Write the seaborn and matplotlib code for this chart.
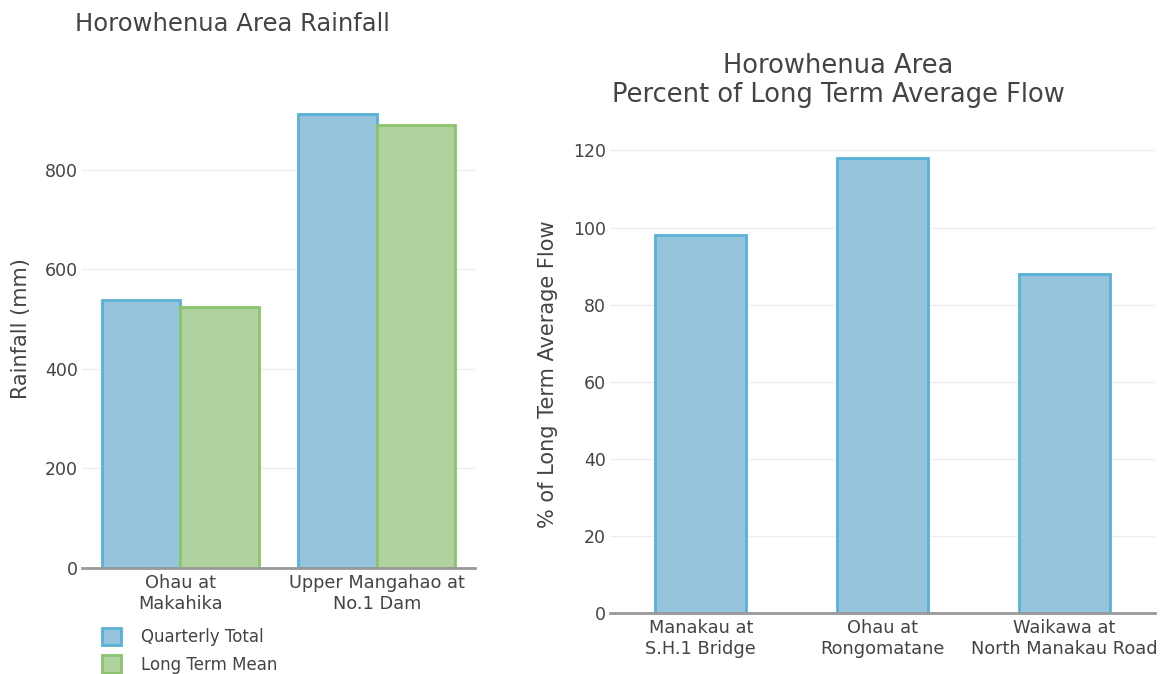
import matplotlib

matplotlib.use("Agg")
import matplotlib.pyplot as plt
import pandas as pd
import seaborn as sns
from matplotlib.patches import Patch

# --- data ---
rain_sites = ["Ohau at\nMakahika", "Upper Mangahao at\nNo.1 Dam"]
quarterly_total = [539, 912]
long_term_mean = [525, 890]
rain_series = ["Quarterly Total", "Long Term Mean"]

flow_sites = ["Manakau at\nS.H.1 Bridge", "Ohau at\nRongomatane", "Waikawa at\nNorth Manakau Road"]
flow_pct = [98, 118, 88]

BLUE_FILL, BLUE_EDGE = "#96c4dc", "#58b2d6"
GREEN_FILL, GREEN_EDGE = "#b0d29e", "#8cc46c"
TXT = "#444444"

sns.set_theme(style="white")
plt.rcParams["font.family"] = ["DejaVu Sans"]
plt.rcParams["text.color"] = TXT
plt.rcParams["axes.labelcolor"] = TXT
plt.rcParams["xtick.color"] = TXT
plt.rcParams["ytick.color"] = TXT

fig = plt.figure(figsize=(11.67, 6.74), dpi=100)
ax1 = fig.add_axes([0.0703, 0.1573, 0.3368, 0.709])
ax2 = fig.add_axes([0.5227, 0.0905, 0.467, 0.7092])

rain = pd.DataFrame({
    "site": rain_sites * 2,
    "series": [rain_series[0]] * 2 + [rain_series[1]] * 2,
    "value": quarterly_total + long_term_mean,
})
sns.barplot(data=rain, x="site", y="value", hue="series", hue_order=rain_series,
            palette=[BLUE_FILL, GREEN_FILL], width=0.8, saturation=1, ax=ax1, legend=False)
for cont, ec in zip(ax1.containers, [BLUE_EDGE, GREEN_EDGE]):
    for p in cont:
        p.set_edgecolor(ec)
        p.set_linewidth(2)

flow = pd.DataFrame({"site": flow_sites, "value": flow_pct})
sns.barplot(data=flow, x="site", y="value", color=BLUE_FILL, width=0.5,
            saturation=1, ax=ax2)
for p in ax2.patches:
    p.set_edgecolor(BLUE_EDGE)
    p.set_linewidth(2)

def style(ax, ymax, ticks, ylabel, pad):
    ax.set_ylim(0, ymax)
    ax.set_yticks(ticks)
    ax.set_xlabel("")
    ax.set_ylabel(ylabel, fontsize=15, labelpad=pad)
    ax.tick_params(axis="y", labelsize=12.5, length=0, pad=3)
    ax.tick_params(axis="x", labelsize=12.8, length=0, pad=4)
    ax.grid(axis="y", color="#eeeeee", linewidth=1)
    ax.set_axisbelow(True)
    for s in ["top", "right", "left"]:
        ax.spines[s].set_visible(False)
    ax.spines["bottom"].set_color("#999999")
    ax.spines["bottom"].set_linewidth(2)
    for lab in ax.get_xticklabels():
        lab.set_linespacing(1.25)

style(ax1, 960, [0, 200, 400, 600, 800], "Rainfall (mm)", 10)
style(ax2, 124, [0, 20, 40, 60, 80, 100, 120], "% of Long Term Average Flow", 11)

fig.text(0.064, 0.965, "Horowhenua Area Rainfall", fontsize=17.5, ha="left", va="center")
fig.text(0.718, 0.881, "Horowhenua Area\nPercent of Long Term Average Flow",
         fontsize=18.5, ha="center", va="center", linespacing=1.15)

handles = [Patch(facecolor=BLUE_FILL, edgecolor=BLUE_EDGE, linewidth=2),
           Patch(facecolor=GREEN_FILL, edgecolor=GREEN_EDGE, linewidth=2)]
fig.legend(handles, rain_series, loc="upper left", bbox_to_anchor=(0.082, 0.078),
           frameon=False, fontsize=12, handlelength=1.1, handleheight=1.2,
           handletextpad=1.2, labelspacing=0.55, borderaxespad=0)

fig.savefig("out.png", dpi=100)
